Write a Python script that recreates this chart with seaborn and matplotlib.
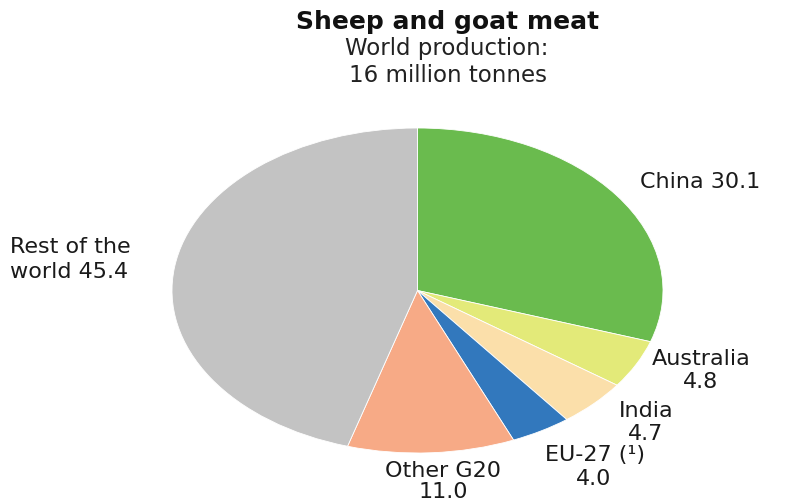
import matplotlib
matplotlib.use('Agg')
import matplotlib.pyplot as plt
import seaborn as sns

# data
regions = ['China', 'Australia', 'India', 'EU-27 (¹)', 'Other G20', 'Rest of the world']
shares = [30.1, 4.8, 4.7, 4.0, 11.0, 45.4]
slice_colors = ['#6abb4e', '#e3ea79', '#fbdfaa', '#3278bd', '#f7aa86', '#c3c3c3']
title_lines = ['Sheep and goat meat', 'World production:', '16 million tonnes']

sns.set_theme(style='white')
plt.rcParams['font.family'] = ['DejaVu Sans']

W, H = 786, 504
fig = plt.figure(figsize=(W / 100, H / 100), dpi=100)

# pie is drawn as an ellipse (reference is stretched horizontally)
ax = fig.add_axes([172 / W, 51 / H, 491 / W, 325 / H])
ax.pie(shares, colors=slice_colors, startangle=90, counterclock=False, radius=1,
       wedgeprops=dict(edgecolor='white', linewidth=0.6))
ax.set_aspect('auto')
ax.set_xlim(-1, 1)
ax.set_ylim(-1, 1)
ax.axis('off')


def put(txt, x, y, ha='center', **kw):
    fig.text(x / W, 1 - y / H, txt, ha=ha, va='center', **kw)


# title block
put(title_lines[0], 448, 22, fontsize=18, fontweight='bold', color='#111111')
put(title_lines[1], 447, 49, fontsize=16.5, color='#222222')
put(title_lines[2], 448, 75, fontsize=16.5, color='#222222')

# slice labels
lab = dict(fontsize=16, color='#1a1a1a')
put(f'{regions[0]} {shares[0]:.1f}', 640, 182, ha='left', **lab)
put('Rest of the', 10, 247, ha='left', **lab)
put(f'world {shares[5]:.1f}', 10, 272, ha='left', **lab)
put(regions[1], 701, 359, **lab)
put(f'{shares[1]:.1f}', 701, 382, **lab)
put(regions[2], 646, 411, **lab)
put(f'{shares[2]:.1f}', 646, 434, **lab)
put(regions[3], 595, 455, **lab)
put(f'{shares[3]:.1f}', 594, 479, **lab)
put(regions[4], 443, 471, **lab)
put(f'{shares[4]:.1f}', 443, 492, **lab)

fig.savefig('out.png', dpi=100)
